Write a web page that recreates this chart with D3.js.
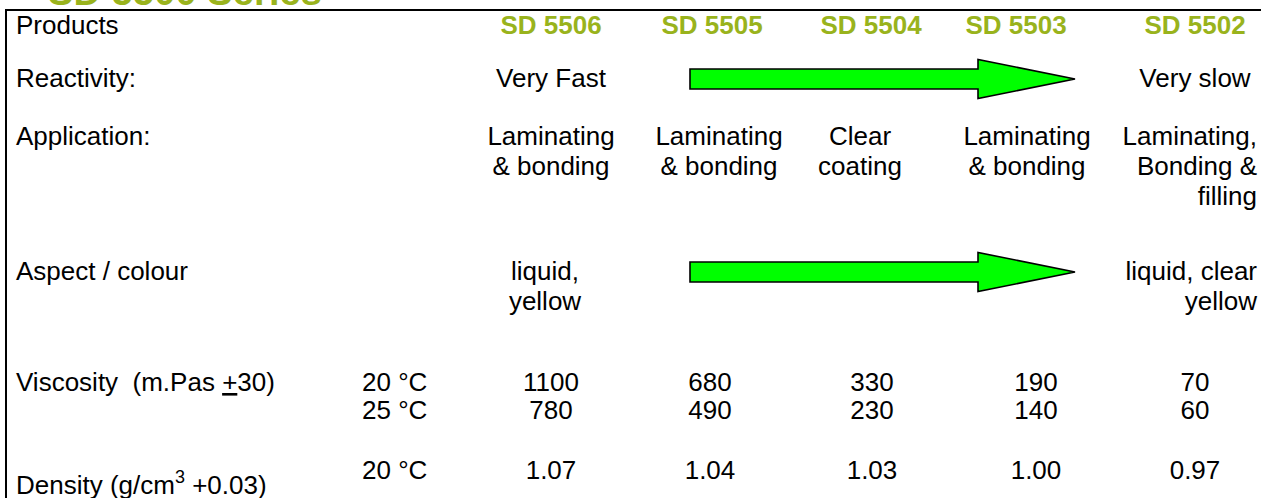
<!DOCTYPE html>
<html>
<head>
<meta charset="utf-8">
<script src="https://cdn.jsdelivr.net/npm/d3@7"></script>
<style>
  body { margin: 0; background: #ffffff; }
  svg text { font-family: "Liberation Sans", Arial, sans-serif; fill: #000; }
</style>
</head>
<body>
<div class="sd-table-wrapper"></div>
<script>
// table content
const products = ['SD 5506', 'SD 5505', 'SD 5504', 'SD 5503', 'SD 5502'];
const rowLabels = ['Products', 'Reactivity:', 'Application:', 'Aspect / colour'];
const reactivity = ['Very Fast', '', '', '', 'Very slow'];
const application = [
  ['Laminating', '& bonding'],
  ['Laminating', '& bonding'],
  ['Clear', 'coating'],
  ['Laminating', '& bonding'],
  ['Laminating,', 'Bonding &', 'filling']
];
const aspect = [['liquid,', 'yellow'], [], [], [], ['liquid, clear', 'yellow']];
const viscosityTemps = ['20 °C', '25 °C'];
const viscosity20 = [1100, 680, 330, 190, 70];
const viscosity25 = [780, 490, 230, 140, 60];
const densityTemp = '20 °C';
const density20 = [1.07, 1.04, 1.03, 1.00, 0.97];
const arrowRows = ['Reactivity:', 'Aspect / colour'];

const width = 1267;
const height = 498;
const fontSize = 26;
const green = '#99b31c';

const svg = d3.select('.sd-table-wrapper').append('svg')
.attr('width', width)
.attr('height', height)

// column centres (header / text columns and number columns are a bit different)
const colX = d3.scaleOrdinal().domain(products).range([551, 712, 871, 1016, 1195]);
const numX = d3.scaleOrdinal().domain(products).range([551, 710, 872, 1036, 1195]);
const appX = d3.scaleOrdinal().domain(products).range([551, 719, 860, 1027, 1257]);

// row baselines
const rowY = d3.scaleOrdinal().domain(rowLabels).range([34, 87, 145, 280]);
const lineH = 30;

// cut off title above the box
svg.append('text')
.attr('x', 48)
.attr('y', 5)
.attr('font-size', 38)
.attr('font-weight', 'bold')
.attr('textLength', 274)
.style('fill', green)
.text('SD 5500 Series')

// frame
svg.append('line')
.attr('x1', 5).attr('x2', 1261)
.attr('y1', 10).attr('y2', 10)
.attr('stroke', '#000').attr('stroke-width', 2)

svg.append('line')
.attr('x1', 6).attr('x2', 6)
.attr('y1', 9).attr('y2', height)
.attr('stroke', '#000').attr('stroke-width', 2)

// row labels
svg.selectAll('.row-label')
.data(rowLabels)
.enter()
.append('text')
.attr('class', 'row-label')
.attr('x', 16)
.attr('y', d => rowY(d))
.attr('font-size', fontSize)
.text(d => d)

// product headers
svg.selectAll('.product')
.data(products)
.enter()
.append('text')
.attr('class', 'product')
.attr('x', d => colX(d))
.attr('y', rowY('Products'))
.attr('text-anchor', 'middle')
.attr('font-size', fontSize)
.attr('font-weight', 'bold')
.style('fill', green)
.text(d => d)

// reactivity
svg.selectAll('.reactivity')
.data(reactivity)
.enter()
.append('text')
.attr('class', 'reactivity')
.attr('x', (d, i) => colX(products[i]))
.attr('y', rowY('Reactivity:'))
.attr('text-anchor', 'middle')
.attr('font-size', fontSize)
.text(d => d)

// multi line cells
const multiLine = (data, row, cls) => {
  svg.selectAll('.' + cls)
  .data(data)
  .enter()
  .append('text')
  .attr('class', cls)
  .attr('font-size', fontSize)
  .attr('text-anchor', (d, i) => i == products.length - 1 ? 'end' : 'middle')
  .each(function(d, i) {
    d3.select(this).selectAll('tspan')
    .data(d)
    .enter()
    .append('tspan')
    .attr('x', row == 'Application:' || i == products.length - 1 ? appX(products[i]) : colX(products[i]) - 6)
    .attr('y', (t, j) => rowY(row) + j * lineH)
    .text(t => t)
  })
}

multiLine(application, 'Application:', 'application')
multiLine(aspect, 'Aspect / colour', 'aspect')

// arrows
const shaftH = 10, headH = 19.5, headL = 97;
const arrowStart = colX('SD 5505') - 22;
const arrowTip = colX('SD 5503') + 59;

svg.selectAll('.arrow')
.data(arrowRows)
.enter()
.append('path')
.attr('class', 'arrow')
.attr('d', d => {
  const cy = rowY(d) - 8;
  return d3.line()([
    [arrowStart, cy - shaftH],
    [arrowTip - headL, cy - shaftH],
    [arrowTip - headL, cy - headH],
    [arrowTip, cy],
    [arrowTip - headL, cy + headH],
    [arrowTip - headL, cy + shaftH],
    [arrowStart, cy + shaftH]
  ]) + 'Z'
})
.attr('fill', '#00ff00')
.attr('stroke', '#000')
.attr('stroke-width', 1.6)

// viscosity
const viscY = [391, 419];
const visc = svg.append('text')
.attr('x', 16)
.attr('y', viscY[0])
.attr('font-size', fontSize)
visc.append('tspan').attr('xml:space', 'preserve').text('Viscosity  (m.Pas ')
visc.append('tspan').style('text-decoration', 'underline').text('+')
visc.append('tspan').text('30)')

svg.selectAll('.visc-temp')
.data(viscosityTemps)
.enter()
.append('text')
.attr('class', 'visc-temp')
.attr('x', 362)
.attr('y', (d, i) => viscY[i])
.attr('font-size', fontSize)
.text(d => d)

const numberRow = (values, y, fmt) => {
  svg.append('g')
  .selectAll('text')
  .data(values)
  .enter()
  .append('text')
  .attr('x', (d, i) => numX(products[i]))
  .attr('y', y)
  .attr('text-anchor', 'middle')
  .attr('font-size', fontSize)
  .text(fmt)
}

numberRow(viscosity20, viscY[0], d => d)
numberRow(viscosity25, viscY[1], d => d)

// density
const densY = 479;
const dens = svg.append('text')
.attr('x', 16)
.attr('y', 494)
.attr('font-size', fontSize)
dens.append('tspan').text('Density (g/cm')
dens.append('tspan').attr('font-size', 18).attr('dy', -11).text('3')
dens.append('tspan').attr('dy', 11).attr('xml:space', 'preserve').text(' +0.03)')

svg.append('text')
.attr('x', 362)
.attr('y', densY)
.attr('font-size', fontSize)
.text(densityTemp)

numberRow(density20, densY, d => d3.format('.2f')(d))
</script>
</body>
</html>
